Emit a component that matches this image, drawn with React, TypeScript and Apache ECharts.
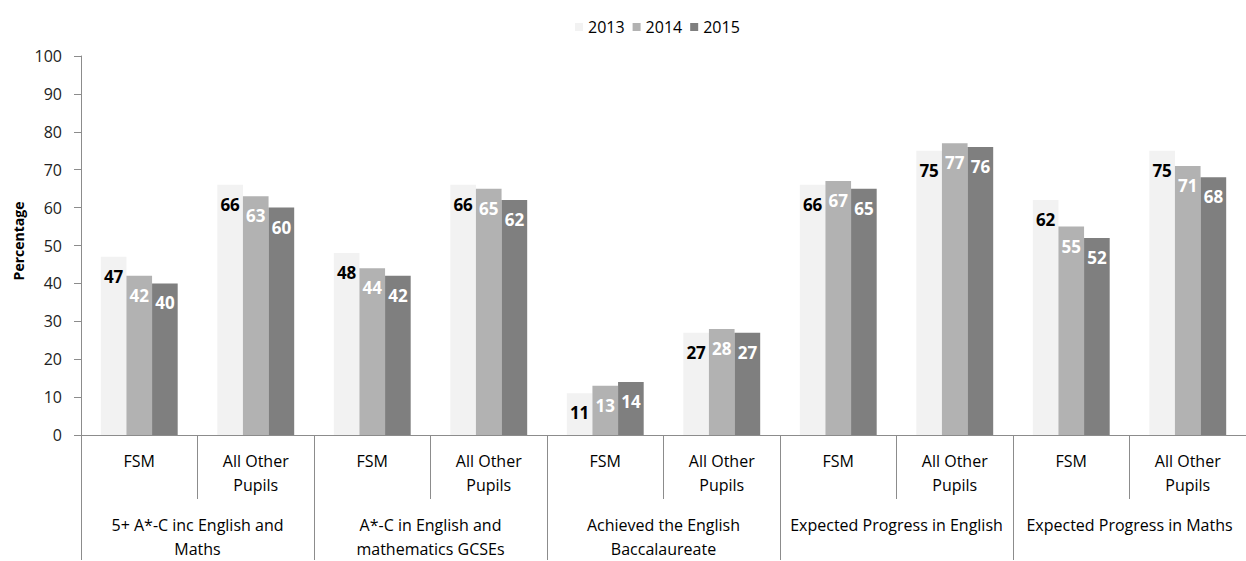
import React, { useEffect, useRef } from "react";
import * as echarts from "echarts";

const categories = [
  "FSM", "All Other\nPupils",
  "FSM", "All Other\nPupils",
  "FSM", "All Other\nPupils",
  "FSM", "All Other\nPupils",
  "FSM", "All Other\nPupils",
];
const groups = [
  "5+ A*-C inc English and\nMaths",
  "A*-C in English and\nmathematics GCSEs",
  "Achieved the English\nBaccalaureate",
  "Expected Progress in English",
  "Expected Progress in Maths",
];
const seriesNames = ["2013", "2014", "2015"];
const values2013 = [47, 66, 48, 66, 11, 27, 66, 75, 62, 75];
const values2014 = [42, 63, 44, 65, 13, 28, 67, 77, 55, 71];
const values2015 = [40, 60, 42, 62, 14, 27, 65, 76, 52, 68];
const yTicks = { min: 0, max: 100, interval: 10 };

const FONT = "'Open Sans', sans-serif";
const AXIS = "#8c8c8c";
const colors = ["#f2f2f2", "#b2b2b2", "#7f7f7f"];
const labelColors = ["#000000", "#ffffff", "#ffffff"];

export default function App() {
  const ref = useRef<HTMLDivElement>(null);
  useEffect(() => {
    if (!ref.current) return;
    const chart = echarts.init(ref.current, null, { renderer: "svg" });
    const data = [values2013, values2014, values2015];
    chart.setOption({
      animation: false,
      backgroundColor: "#ffffff",
      textStyle: { fontFamily: FONT },
      legend: {
        data: seriesNames,
        left: 570,
        top: 14,
        icon: "rect",
        itemWidth: 8,
        itemHeight: 8,
        itemGap: 8,
        textStyle: { fontSize: 16, color: "#000", fontFamily: FONT },
      },
      grid: { left: 81, right: -5, top: 56, bottom: 120, containLabel: false },
      graphic: [
        {
          type: "text",
          x: 18,
          y: 241,
          rotation: Math.PI / 2,
          style: {
            text: "Percentage",
            align: "center",
            verticalAlign: "middle",
            fontSize: 14,
            fontWeight: "bold",
            fontFamily: FONT,
            fill: "#000",
          },
        },
      ],
      xAxis: [
        {
          type: "category",
          data: categories,
          position: "bottom",
          axisLine: { show: true, lineStyle: { color: AXIS, width: 1 } },
          axisTick: { show: true, interval: 0, length: 64, lineStyle: { color: AXIS } },
          axisLabel: {
            interval: 0,
            margin: 14,
            fontSize: 16,
            lineHeight: 24,
            color: "#000",
            fontFamily: FONT,
          },
        },
        {
          type: "category",
          data: groups,
          position: "bottom",
          axisLine: { show: false },
          axisTick: { show: true, interval: 0, length: 125, lineStyle: { color: AXIS } },
          axisLabel: {
            interval: 0,
            margin: 78,
            fontSize: 16,
            lineHeight: 24,
            color: "#000",
            fontFamily: FONT,
          },
        },
      ],
      yAxis: {
        type: "value",
        min: yTicks.min,
        max: yTicks.max,
        interval: yTicks.interval,
        axisLine: { show: true, lineStyle: { color: AXIS } },
        axisTick: { show: true, length: 7, lineStyle: { color: AXIS } },
        splitLine: { show: false },
        axisLabel: { margin: 19, fontSize: 16, color: "#222", fontFamily: FONT },
      },
      series: seriesNames.map((name, i) => ({
        name,
        type: "bar",
        xAxisIndex: 0,
        data: data[i],
        barGap: "0%",
        barCategoryGap: "34%",
        itemStyle: { color: colors[i] },
        label: {
          show: true,
          position: "insideTop",
          distance: 11,
          fontSize: 17,
          fontWeight: "bold",
          color: labelColors[i],
          fontFamily: FONT,
        },
      })),
    });
    return () => chart.dispose();
  }, []);
  return (
    <div
      ref={ref}
      style={{ position: "fixed", left: 0, top: 0, width: 1246, height: 561 }}
    />
  );
}
